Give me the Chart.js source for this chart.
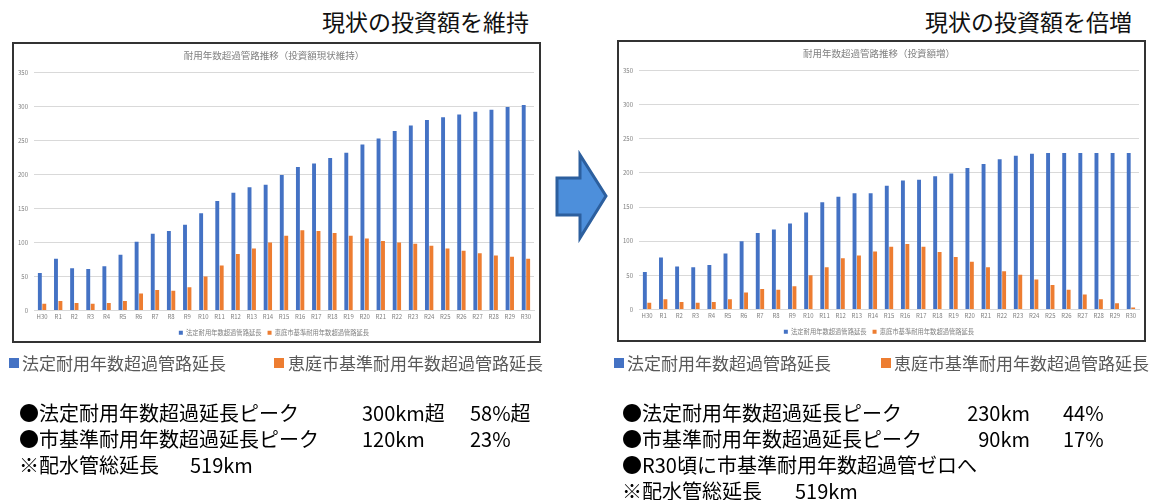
<!DOCTYPE html>
<html>
<head>
<meta charset="utf-8">
<script src="https://cdn.jsdelivr.net/npm/chart.js@4.4.1/dist/chart.umd.min.js"></script>
<style>
body { margin:0; background:#fff; width:1167px; height:500px; position:relative; overflow:hidden;
  font-family:'Noto Sans CJK JP','Noto Sans',sans-serif; }
.t { position:absolute; white-space:nowrap; line-height:1; }
.box { position:absolute; border:2px solid #333; box-sizing:border-box; background:#fff; }
.box canvas { position:absolute; left:0; top:0; }
.head { font-size:23px; color:#111; }
.leg { font-size:17px; color:#595959; }
.sq { position:absolute; width:10px; height:10px; }
.note { font-size:20px; color:#000; }
</style>
</head>
<body>
<div class="t head" style="left:322px;top:10px">現状の投資額を維持</div>
<div class="t head" style="left:925px;top:10px">現状の投資額を倍増</div>

<div class="box" style="left:12px;top:42px;width:529px;height:301px"><canvas id="keep" width="525" height="297"></canvas></div>
<div class="box" style="left:617px;top:40px;width:529px;height:302px"><canvas id="double" width="525" height="298"></canvas></div>

<svg style="position:absolute;left:0;top:0" width="1167" height="500">
  <polygon points="557,178 580,178 580,155 606,196 580,238 580,215 557,215" fill="#4d8fdb" stroke="#2c5f9e" stroke-width="3" stroke-linejoin="miter"/>
</svg>

<div class="sq" style="left:9px;top:358px;background:#4472C4"></div>
<div class="t leg" style="left:22px;top:354px">法定耐用年数超過管路延長</div>
<div class="sq" style="left:274px;top:358px;background:#ED7D31"></div>
<div class="t leg" style="left:288px;top:354px">恵庭市基準耐用年数超過管路延長</div>

<div class="sq" style="left:614px;top:358px;background:#4472C4"></div>
<div class="t leg" style="left:627px;top:354px">法定耐用年数超過管路延長</div>
<div class="sq" style="left:881px;top:358px;background:#ED7D31"></div>
<div class="t leg" style="left:894px;top:354px">恵庭市基準耐用年数超過管路延長</div>

<div class="t note" style="left:19px;top:403px">●法定耐用年数超過延長ピーク</div>
<div class="t note" style="left:362px;top:403px">300km超</div>
<div class="t note" style="left:470px;top:403px">58%超</div>
<div class="t note" style="left:19px;top:429px">●市基準耐用年数超過延長ピーク</div>
<div class="t note" style="left:362px;top:429px">120km</div>
<div class="t note" style="left:470px;top:429px">23%</div>
<div class="t note" style="left:19px;top:455px">※配水管総延長</div>
<div class="t note" style="left:190px;top:455px">519km</div>

<div class="t note" style="left:622px;top:403px">●法定耐用年数超過延長ピーク</div>
<div class="t note" style="right:137px;top:403px">230km</div>
<div class="t note" style="left:1063px;top:403px">44%</div>
<div class="t note" style="left:622px;top:429px">●市基準耐用年数超過延長ピーク</div>
<div class="t note" style="right:137px;top:429px">90km</div>
<div class="t note" style="left:1063px;top:429px">17%</div>
<div class="t note" style="left:622px;top:455px">●R30頃に市基準耐用年数超過管ゼロへ</div>
<div class="t note" style="left:622px;top:481px">※配水管総延長</div>
<div class="t note" style="left:795px;top:481px">519km</div>

<script>
// 年度
var years = ['H30','R1','R2','R3','R4','R5','R6','R7','R8','R9','R10',
  'R11','R12','R13','R14','R15','R16','R17','R18','R19','R20',
  'R21','R22','R23','R24','R25','R26','R27','R28','R29','R30'];

// 投資額現状維持 (km)
var keepLegal = [55,76,62,61,65,82,101,113,117,126,143,161,173,181,185,199,211,216,224,232,244,253,264,272,280,284,288,292,295,299,302];
var keepCity  = [10,14,11,10,11,14,25,30,29,34,50,66,83,91,100,110,118,117,114,110,106,102,100,98,95,91,88,84,81,79,76];

// 投資額倍増 (km)
var doubleLegal = [55,76,63,62,65,82,100,112,117,126,142,157,165,170,170,181,189,190,195,199,207,213,220,225,228,229,229,229,229,229,229];
var doubleCity  = [10,15,11,10,11,15,25,30,29,34,50,62,75,79,85,92,96,92,84,77,70,62,56,51,44,36,29,22,15,9,3];

var seriesNames = ['法定耐用年数超過管路延長', '恵庭市基準耐用年数超過管路延長'];
var yMax = 350, yStep = 50;

var font = "'Noto Sans CJK JP', sans-serif";

function makeChart(id, title, legal, city) {
    var ctx = document.getElementById(id).getContext('2d');
    return new Chart(ctx, {
        type: 'bar',
        data: {
            labels: years,
            datasets: [{
                label: seriesNames[0],
                data: legal,
                backgroundColor: '#4472C4',
                categoryPercentage: 0.55,
                barPercentage: 0.88
            }, {
                label: seriesNames[1],
                data: city,
                backgroundColor: '#ED7D31',
                categoryPercentage: 0.55,
                barPercentage: 0.88
            }]
        },
        options: {
            responsive: false,
            animation: false,
            devicePixelRatio: 1,
            layout: { padding: { left: 0, right: 5, top: 0, bottom: -5 } },
            plugins: {
                title: {
                    display: true,
                    text: title,
                    color: '#808080',
                    font: { family: font, size: 9.5, weight: 'normal' },
                    padding: { top: 6, bottom: 11 }
                },
                legend: {
                    position: 'bottom',
                    labels: {
                        boxWidth: 4, boxHeight: 4,
                        color: '#808080',
                        padding: 6,
                        font: { family: font, size: 6.3 }
                    }
                },
                tooltip: { enabled: false }
            },
            scales: {
                x: {
                    grid: { display: false, drawTicks: false },
                    border: { color: '#d9d9d9' },
                    ticks: { color: '#808080', font: { family: font, size: 6 }, padding: 3, maxRotation: 0, autoSkip: false }
                },
                y: {
                    min: 0, max: yMax,
                    afterFit: function (s) { s.width = 20; },
                    grid: { color: '#d9d9d9', drawTicks: false },
                    border: { display: false },
                    ticks: { stepSize: yStep, color: '#808080', font: { family: font, size: 6 }, padding: 6 }
                }
            }
        }
    });
}

makeChart('keep', '耐用年数超過管路推移（投資額現状維持）', keepLegal, keepCity);
makeChart('double', '耐用年数超過管路推移（投資額増）', doubleLegal, doubleCity);
</script>
</body>
</html>
